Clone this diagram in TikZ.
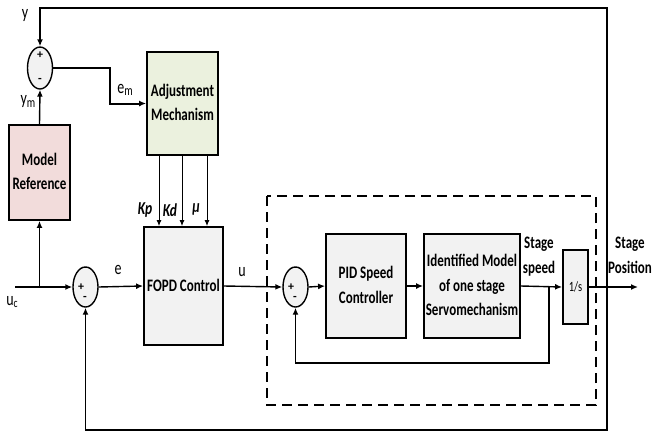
\documentclass[tikz,border=0pt]{standalone}
\usepackage{fontspec}
\setmainfont{Carlito}
\usepackage{graphicx}
\usetikzlibrary{shapes.geometric,arrows.meta}
% block text: centred lines, stretched vertically like the drawing's lettering
\newcommand\vtxt[1]{\scalebox{1}[1.35]{\begin{tabular}{@{}c@{}}#1\end{tabular}}}
\definecolor{grayfill}{HTML}{F2F2F2}
\definecolor{pinkfill}{HTML}{F2DCDB}
\definecolor{greenfill}{HTML}{EBF1DE}
\begin{document}
\begin{tikzpicture}[x=1pt,y=-1pt,
  blk/.style={draw, line width=1.8pt, fill=grayfill, inner sep=0pt,
    font=\fontsize{13}{18.5}\selectfont\bfseries},
  sumn/.style={ellipse, draw, line width=1.4pt, fill=grayfill,
    minimum width=25pt, minimum height=40pt, inner sep=0pt},
  sgn/.style={inner sep=0pt, font=\fontsize{12}{12}\selectfont\bfseries},
  arr/.style={line width=1.4pt, -{Latex[length=7pt,width=6pt]}},
  thinarr/.style={line width=1pt, -{Latex[length=6pt,width=5pt]}},
  lbl/.style={inner sep=0pt, font=\fontsize{14}{16}\selectfont},
  blbl/.style={inner sep=0pt, font=\fontsize{13}{18.5}\selectfont\bfseries},
  klbl/.style={inner sep=0pt, font=\fontsize{13.5}{16}\selectfont\bfseries\itshape},
]
\useasboundingbox (0,0) rectangle (654,432);

% summing junctions
\node[sumn, minimum height=42pt] (ts) at (40,68) {};
\node[sumn] (ls) at (85.5,287) {};
\node[sumn] (is) at (295.5,287) {};
\node[sgn] (tsp) at (40,55) {+};
\node[sgn] (tsm) at (40,80) {-};
\node[sgn] (lsp) at (81,287) {+};
\node[sgn] (lsm) at (85,298) {-};
\node[sgn] (isp) at (291,287) {+};
\node[sgn] (ism) at (295,298) {-};

% blocks
\node[blk, fill=pinkfill, minimum width=61pt, minimum height=95pt] (mr) at (39.5,172.5) {\vtxt{Model\\Reference}};
\node[blk, fill=greenfill, minimum width=71pt, minimum height=103pt] (adj) at (182.5,103.5) {\vtxt{Adjustment\\Mechanism}};
\node[blk, minimum width=79pt, minimum height=118pt] (fopd) at (183.5,286) {\vtxt{FOPD Control}};
\node[blk, minimum width=80pt, minimum height=104pt] (pid) at (366,286) {\vtxt{PID Speed\\Controller}};
\node[blk, minimum width=96pt, minimum height=104pt] (idm) at (472,286) {\vtxt{Identified Model\\of one stage\\Servomechanism}};
\node[blk, minimum width=25pt, minimum height=74pt, font=\fontsize{10.5}{12}\selectfont] (one) at (575.5,287) {\scalebox{1}[1.35]{1/s}};

% servo loop enclosure
\draw[line width=1.6pt, dash pattern=on 10pt off 6pt] (267,196) rectangle (596,405);

% points on the signal lines
\coordinate (uc) at (15,287);
\coordinate (ucb) at (39.5,287);
\coordinate (sp) at (549,287);
\coordinate (ib) at (549,363);
\coordinate (fb) at (607,287);
\coordinate (tr) at (607,8);
\coordinate (br) at (607,430);
\coordinate (yout) at (638,287);
\coordinate (k1) at (159,0);
\coordinate (k2) at (182,0);
\coordinate (k3) at (207,0);

% signal flow
\draw[arr] (uc) -- (ls.west);
\draw[arr] (ucb) -- (mr.south);
\draw[arr] (mr.north) -- (ts.south);
\draw[line width=2pt, -{Latex[length=7pt,width=6pt]}] (ts.east) -- ++(57,0) |- (adj.west);
\draw[thinarr] (adj.south -| k1) -- (fopd.north -| k1);
\draw[thinarr] (adj.south -| k2) -- (fopd.north -| k2);
\draw[thinarr] (adj.south -| k3) -- (fopd.north -| k3);
\draw[arr] (ls.east) -- (fopd.west);
\draw[arr] (fopd.east) -- (is.west);
\draw[arr] (is.east) -- (pid.west);
\draw[arr] (pid.east) -- (idm.west);
\draw[arr] (idm.east) -- (one.west);
\draw[arr] (sp) -- (ib) -| (is.south);
\draw[arr] (one.east) -- (yout);
\draw[arr] (fb) -- (tr) -| (ts.north);
\draw[arr] (fb) -- (br) -| (ls.south);

% signal labels
\node[lbl] (ly) at (25,16) {\scalebox{1}[1.35]{y}};
\node[lbl] (lym) at (28,102) {\scalebox{1}[1.35]{y\raisebox{-1.5pt}{\fontsize{10.5}{12}\selectfont m}}};
\node[lbl] (lem) at (125,90) {\scalebox{1}[1.35]{e\raisebox{-1.5pt}{\fontsize{10.5}{12}\selectfont m}}};
\node[lbl] (luc) at (12,302) {\scalebox{1}[1.35]{u\raisebox{-1.5pt}{\fontsize{9.5}{11}\selectfont c}}};
\node[lbl] (le) at (118,270) {\scalebox{1}[1.35]{e}};
\node[lbl] (lu) at (242,272) {\scalebox{1}[1.35]{u}};
\node[klbl] (lkp) at (145,210) {\scalebox{1}[1.35]{Kp}};
\node[klbl] (lkd) at (170,210) {\scalebox{1}[1.35]{Kd}};
\node[klbl] (lmu) at (196,210) {\scalebox{1}[1.35]{μ}};
\node[blbl] (lss) at (539,256) {\vtxt{Stage\\speed}};
\node[blbl] (lsp) at (630,256) {\vtxt{Stage\\Position}};
\end{tikzpicture}
\end{document}
